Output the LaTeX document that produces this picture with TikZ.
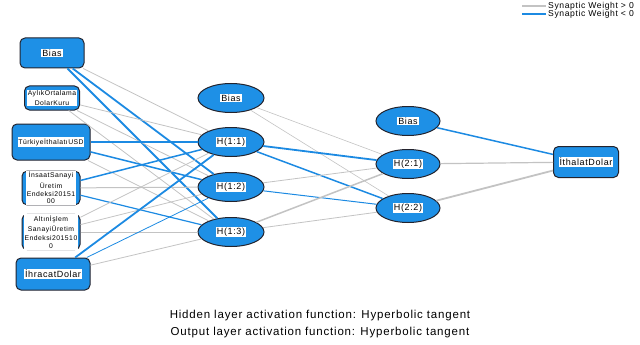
\documentclass[tikz,border=0pt]{standalone}
\usepackage{fontspec}
\setmainfont{Liberation Sans}[LetterSpace=7]
\usetikzlibrary{shapes.geometric}
\definecolor{unitblue}{RGB}{30,144,230}
\definecolor{unitline}{RGB}{35,35,45}
\definecolor{poscol}{RGB}{195,195,195}
\definecolor{negcol}{RGB}{28,138,226}
\newcommand{\wtag}[1]{{\setlength{\fboxsep}{0.9pt}\colorbox{white}{#1}}}
\newcommand{\wstack}[1]{{\setlength{\fboxsep}{0.9pt}\colorbox{white}{\shortstack{#1}}}}

\begin{document}
\begin{tikzpicture}[x=1pt,y=1pt]
\tikzstyle{every node}+=[inner sep=0pt]
\tikzstyle{inbox}=[draw=unitline, line width=1pt, fill=unitblue, rounded corners=5pt, font=\fontsize{6.8}{6.6}\selectfont]
\tikzstyle{unit}=[ellipse, draw=unitline, line width=1pt, fill=unitblue, minimum width=66, minimum height=29, font=\fontsize{9}{10}\selectfont]
\tikzstyle{wpos}=[draw=poscol]
\tikzstyle{wneg}=[draw=negcol]
\useasboundingbox (0,0) rectangle (640,-345);

% input layer
\node [inbox, minimum width=64, minimum height=30, font=\fontsize{9}{10}\selectfont] (inBias) at (52,-53) {\wtag{Bias}};
\node [inbox, minimum width=55, minimum height=24] (inKur) at (52,-98) {\wstack{AylıkOrtalama\\DolarKuru}};
\node [inbox, minimum width=78, minimum height=36] (inImp) at (51,-142) {\wtag{TürkiyeİthalatıUSD}};
\node [inbox, minimum width=58, minimum height=31] (inIns) at (51,-188) {\wstack{İnsaatSanayi\\Üretim\\Endeksi20151\\00}};
\node [inbox, minimum width=58, minimum height=31] (inAlt) at (51,-232) {\wstack{Altınİşlem\\SanayiÜretim\\Endeksi201510\\0}};
\node [inbox, minimum width=74, minimum height=32, font=\fontsize{9}{10}\selectfont] (inExp) at (53,-274) {\wtag{İhracatDolar}};

% first hidden layer
\node [unit] (hBiasA) at (231,-98) {\wtag{Bias}};
\node [unit] (h11) at (231,-142) {\wtag{H(1:1)}};
\node [unit] (h12) at (231,-187) {\wtag{H(1:2)}};
\node [unit] (h13) at (231,-232) {\wtag{H(1:3)}};

% second hidden layer
\node [unit, minimum width=64] (hBiasB) at (408,-121) {\wtag{Bias}};
\node [unit, minimum width=64] (h21) at (408,-164) {\wtag{H(2:1)}};
\node [unit, minimum width=64] (h22) at (408,-208) {\wtag{H(2:2)}};

% output layer
\node [inbox, minimum width=65, minimum height=31, font=\fontsize{9}{10}\selectfont] (out) at (586,-162) {\wtag{İthalatDolar}};

% weights into H(1:k)
\draw [wpos, line width=0.8pt] (inBias) -- (h11);
\draw [wneg, line width=1.8pt] (inBias) -- (h12);
\draw [wneg, line width=1.8pt] (inBias) -- (h13);
\draw [wpos, line width=0.8pt] (inKur) -- (h11);
\draw [wpos, line width=0.8pt] (inKur) -- (h12);
\draw [wpos, line width=0.8pt] (inKur) -- (h13);
\draw [wneg, line width=1.8pt] (inImp) -- (h11);
\draw [wneg, line width=1.5pt] (inImp) -- (h12);
\draw [wpos, line width=0.8pt] (inImp) -- (h13);
\draw [wneg, line width=1.5pt] (inIns) -- (h11);
\draw [wpos, line width=1pt] (inIns) -- (h12);
\draw [wneg, line width=1.2pt] (inIns) -- (h13);
\draw [wpos, line width=0.8pt] (inAlt) -- (h11);
\draw [wpos, line width=0.8pt] (inAlt) -- (h12);
\draw [wpos, line width=1pt] (inAlt) -- (h13);
\draw [wneg, line width=1.8pt] (inExp) -- (h11);
\draw [wneg, line width=0.8pt] (inExp) -- (h12);
\draw [wpos, line width=0.8pt] (inExp) -- (h13);

% weights into H(2:k)
\draw [wpos, line width=0.6pt] (hBiasA) -- (h21);
\draw [wpos, line width=0.6pt] (hBiasA) -- (h22);
\draw [wneg, line width=1.8pt] (h11) -- (h21);
\draw [wneg, line width=1.5pt] (h11) -- (h22);
\draw [wpos, line width=0.8pt] (h12) -- (h21);
\draw [wneg, line width=1pt] (h12) -- (h22);
\draw [wpos, line width=1.5pt] (h13) -- (h21);
\draw [wpos, line width=0.8pt] (h13) -- (h22);

% weights into the output
\draw [wneg, line width=1.5pt] (hBiasB) -- (out);
\draw [wpos, line width=1.2pt] (h21) -- (out);
\draw [wpos, line width=1.8pt] (h22) -- (out);

% legend
\node [anchor=west, font=\fontsize{8.6}{9}\selectfont] (keyPos) at (548,-6) {Synaptic Weight > 0};
\node [anchor=west, font=\fontsize{8.6}{9}\selectfont] (keyNeg) at (548,-14) {Synaptic Weight < 0};
\draw [wpos, line width=1.5pt] (keyPos.west) ++(-2,0) -- ++(-24,0);
\draw [wneg, line width=2pt] (keyNeg.west) ++(-2,0) -- ++(-24,0);

% activation notes
\node [font=\fontsize{11.5}{12}\selectfont] (noteHid) at (320,-316) {Hidden layer activation function: Hyperbolic tangent};
\node [font=\fontsize{11.5}{12}\selectfont] (noteOut) at (320,-333) {Output layer activation function: Hyperbolic tangent};
\end{tikzpicture}
\end{document}
